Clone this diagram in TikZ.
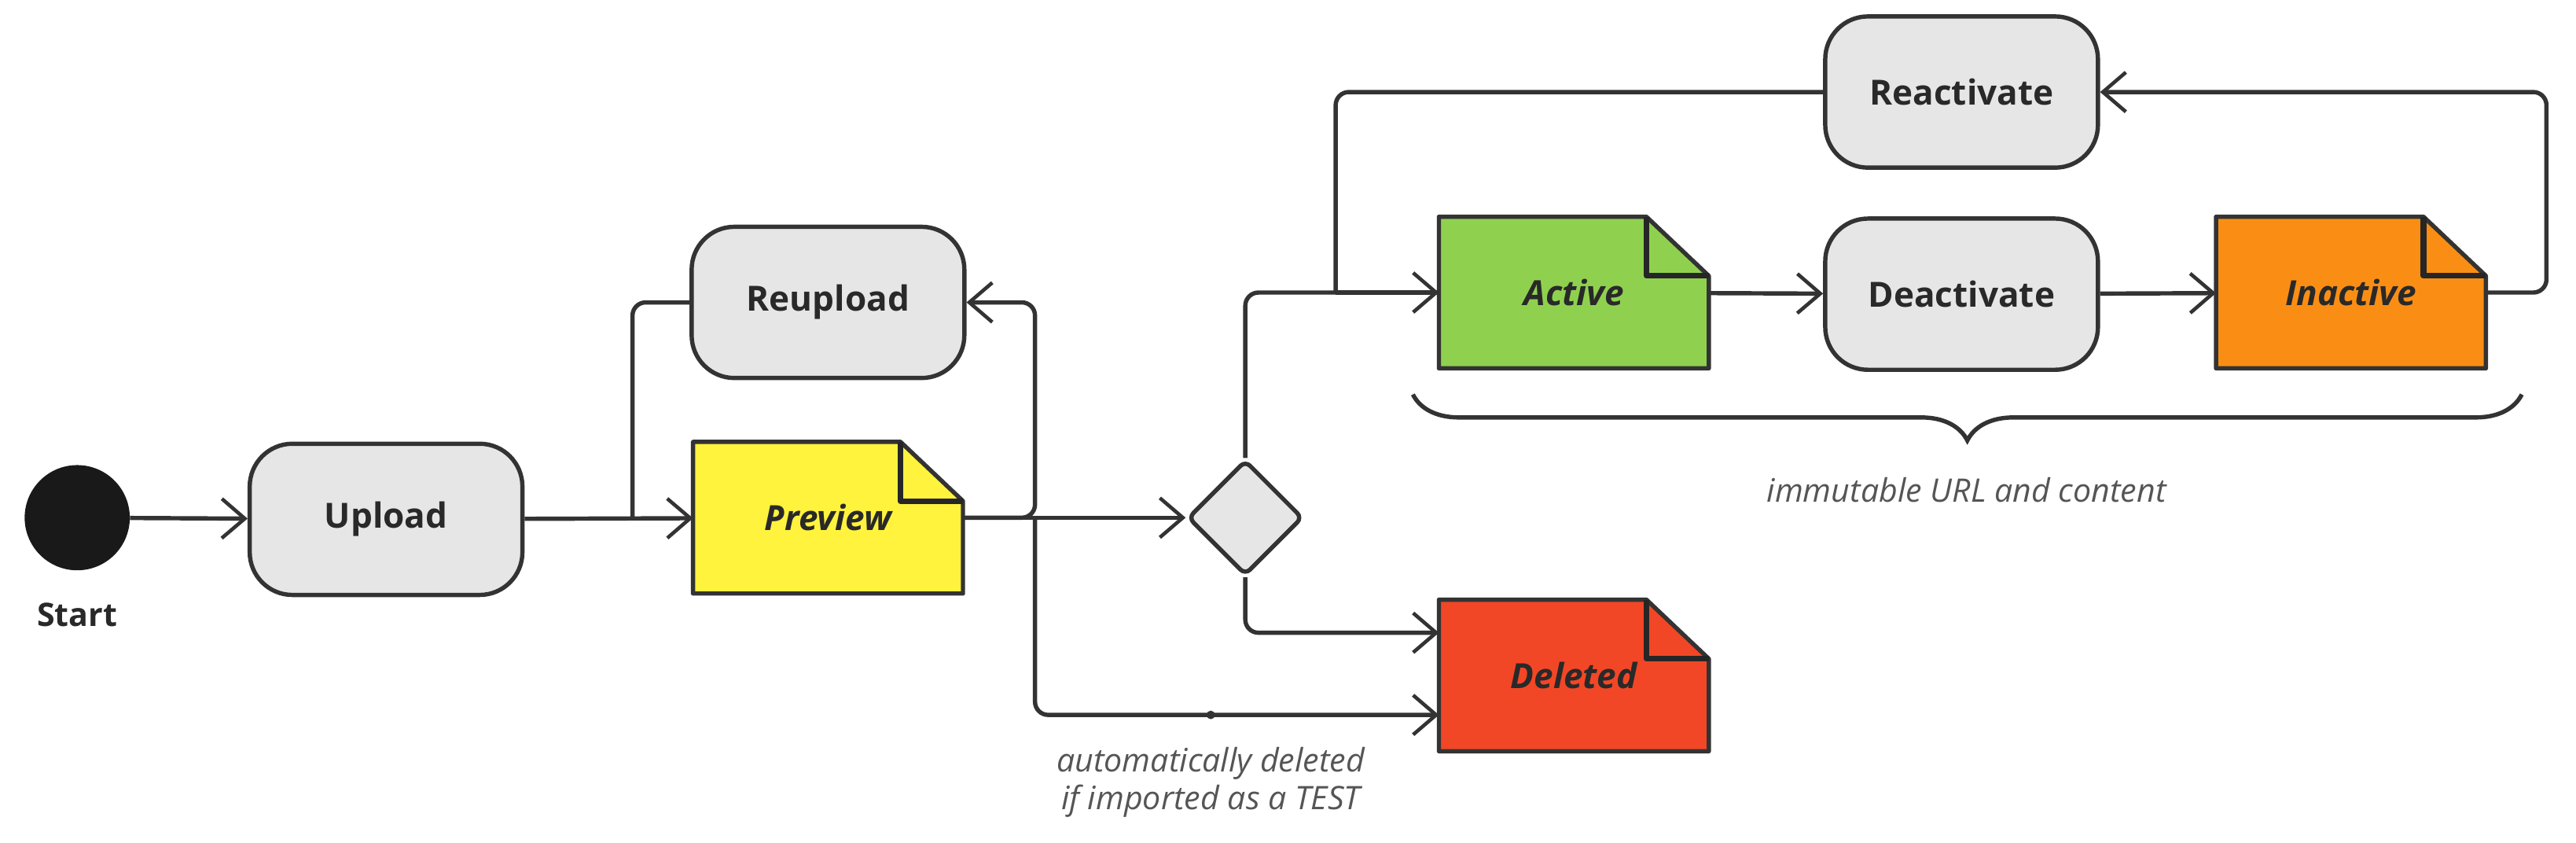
\documentclass[tikz,border=0pt]{standalone}
\usepackage{fontspec}
\setmainfont{Open Sans}
\usetikzlibrary{arrows.meta,shapes.geometric,decorations.pathreplacing}
\definecolor{ln}{HTML}{333333}
\definecolor{gfill}{HTML}{E6E6E6}
\definecolor{cyel}{HTML}{FFF33D}
\definecolor{cgrn}{HTML}{8FD14F}
\definecolor{corg}{HTML}{FA8E14}
\definecolor{cred}{HTML}{F24726}
\definecolor{txtg}{HTML}{555555}
\begin{document}
\begin{tikzpicture}[x=0.5mm,y=-0.5mm,
  proc/.style={draw=ln,line width=1.3mm,fill=gfill,rounded corners=13mm,minimum width=83mm,minimum height=46mm,font=\fontsize{30}{34}\selectfont\bfseries,text=ln!80!black},
  docn/.style={minimum width=82mm,minimum height=46mm,font=\fontsize{30}{34}\selectfont\bfseries\itshape,text=ln!80!black},
  con/.style={draw=ln,line width=1.3mm,rounded corners=4mm},
  arr/.style={con,-{Straight Barb[length=7mm,width=12mm,line width=1.1mm]}},
  note/.style={font=\fontsize{28}{36}\selectfont\itshape,text=txtg,align=center}]
\useasboundingbox (0,0) rectangle (1568,512.5);
\newcommand{\docshape}[2]{%
  \draw[line width=1.3mm,draw=ln,fill=#2,line join=round] (#1.north west) -- ([xshift=-19mm]#1.north east) -- ([yshift=-18mm]#1.north east) -- (#1.south east) -- (#1.south west) -- cycle;
  \draw[line width=1.7mm,draw=black!85,line join=round] ([xshift=-19mm]#1.north east) -- ([xshift=-19mm,yshift=-18mm]#1.north east) -- ([yshift=-18mm]#1.north east);}
% nodes
\node[circle,fill=black!90,minimum size=32mm,inner sep=0] (start) at (47,315) {};
\node[font=\fontsize{28}{32}\selectfont\bfseries,text=ln!80!black] (startl) at (47,374) {Start};
\node[proc] (upload) at (235,316) {Upload};
\node[proc] (reupload) at (504,184) {Reupload};
\node[docn] (preview) at (504,315) {};
\docshape{preview}{cyel}
\node[docn] at (preview) {Preview};
\node[diamond,draw=ln,line width=1.3mm,fill=gfill,minimum width=35mm,minimum height=35mm,inner sep=0,rounded corners=2mm] (dec) at (758,315) {};
\node[docn] (active) at (958,178) {};
\docshape{active}{cgrn}
\node[docn] at (active) {Active};
\node[proc] (deact) at (1194,179) {Deactivate};
\node[docn] (inactive) at (1431,178) {};
\docshape{inactive}{corg}
\node[docn] at (inactive) {Inactive};
\node[proc] (react) at (1194,56) {Reactivate};
\node[docn] (deleted) at (958,411) {};
\docshape{deleted}{cred}
\node[docn] at (deleted) {Deleted};
\node[note] (imm) at (1197,298) {immutable URL and content};
\node[note] (auto) at (737,476) {automatically deleted\\[-4pt]if imported as a TEST};
% junction coords
\coordinate (j1) at (630,315);
\coordinate (j2) at (385,315);
\coordinate (j3) at (813,178);
\coordinate (dot) at (737,435);
% connectors
\draw[arr] (start) -- (upload);
\draw[arr] (upload) -- (preview);
\draw[con] (reupload.west) -| (j2);
\draw[arr] (preview.east) -- (j1) |- (reupload.east);
\draw[arr] (preview.east) -- (dec.west);
\draw[arr] (j1) |- (deleted.west |- dot);
\fill[ln] (dot) circle (1.3mm);
\draw[arr] (dec.north) |- (active.west);
\draw[arr] (dec.south) |- (deleted.west |- 0,385);
\draw[arr] (active) -- (deact);
\draw[arr] (deact) -- (inactive);
\draw[arr] (inactive.east) -- (1550,178) |- (react.east);
\draw[con] (react.west) -| (j3);
\draw[con,rounded corners=0] (j3) -- (active.west);
\draw[line width=1.3mm,draw=ln,decorate,decoration={brace,mirror,amplitude=14mm,raise=0mm}] (860,240) -- (1535,240);
\end{tikzpicture}
\end{document}
